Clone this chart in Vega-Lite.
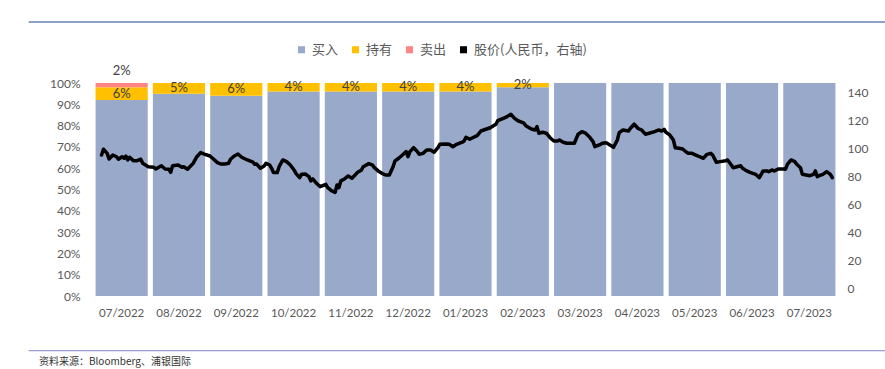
{
  "$schema": "https://vega.github.io/schema/vega-lite/v6.json",
  "width": 745,
  "height": 213,
  "autosize": {"type": "none"},
  "padding": {"left": 93, "top": 83, "right": 47, "bottom": 73},
  "background": "white",
  "config": {
    "view": {"stroke": null},
    "font": "Lato",
    "legend": {"symbolType": "square"}
  },
  "datasets": {
    "bars": [
      {"month": "07/2022", "type": "买入", "pct": 0.92, "order": 1},
      {"month": "07/2022", "type": "持有", "pct": 0.06, "order": 2},
      {"month": "07/2022", "type": "卖出", "pct": 0.02, "order": 3},
      {"month": "08/2022", "type": "买入", "pct": 0.95, "order": 1},
      {"month": "08/2022", "type": "持有", "pct": 0.05, "order": 2},
      {"month": "09/2022", "type": "买入", "pct": 0.94, "order": 1},
      {"month": "09/2022", "type": "持有", "pct": 0.06, "order": 2},
      {"month": "10/2022", "type": "买入", "pct": 0.96, "order": 1},
      {"month": "10/2022", "type": "持有", "pct": 0.04, "order": 2},
      {"month": "11/2022", "type": "买入", "pct": 0.96, "order": 1},
      {"month": "11/2022", "type": "持有", "pct": 0.04, "order": 2},
      {"month": "12/2022", "type": "买入", "pct": 0.96, "order": 1},
      {"month": "12/2022", "type": "持有", "pct": 0.04, "order": 2},
      {"month": "01/2023", "type": "买入", "pct": 0.96, "order": 1},
      {"month": "01/2023", "type": "持有", "pct": 0.04, "order": 2},
      {"month": "02/2023", "type": "买入", "pct": 0.98, "order": 1},
      {"month": "02/2023", "type": "持有", "pct": 0.02, "order": 2},
      {"month": "03/2023", "type": "买入", "pct": 1.0, "order": 1},
      {"month": "04/2023", "type": "买入", "pct": 1.0, "order": 1},
      {"month": "05/2023", "type": "买入", "pct": 1.0, "order": 1},
      {"month": "06/2023", "type": "买入", "pct": 1.0, "order": 1},
      {"month": "07/2023", "type": "买入", "pct": 1.0, "order": 1}
    ],
    "price": [
      {"date": "2022-07-04", "price": 95.2}, {"date": "2022-07-05", "price": 99.3}, {"date": "2022-07-07", "price": 96.4},
      {"date": "2022-07-08", "price": 92.4}, {"date": "2022-07-10", "price": 95.2}, {"date": "2022-07-12", "price": 94.0},
      {"date": "2022-07-13", "price": 92.2}, {"date": "2022-07-15", "price": 94.0}, {"date": "2022-07-16", "price": 92.9},
      {"date": "2022-07-17", "price": 94.5}, {"date": "2022-07-18", "price": 91.7}, {"date": "2022-07-19", "price": 93.6},
      {"date": "2022-07-21", "price": 91.2}, {"date": "2022-07-23", "price": 91.2}, {"date": "2022-07-25", "price": 92.2},
      {"date": "2022-07-26", "price": 89.3}, {"date": "2022-07-29", "price": 86.9}, {"date": "2022-08-01", "price": 86.5},
      {"date": "2022-08-02", "price": 85.3}, {"date": "2022-08-05", "price": 87.6}, {"date": "2022-08-07", "price": 85.3},
      {"date": "2022-08-09", "price": 85.1}, {"date": "2022-08-10", "price": 82.9}, {"date": "2022-08-11", "price": 87.6},
      {"date": "2022-08-14", "price": 88.1}, {"date": "2022-08-16", "price": 86.5}, {"date": "2022-08-17", "price": 86.9},
      {"date": "2022-08-19", "price": 85.1}, {"date": "2022-08-20", "price": 86.5}, {"date": "2022-08-22", "price": 89.3},
      {"date": "2022-08-24", "price": 94.0}, {"date": "2022-08-26", "price": 96.9}, {"date": "2022-08-28", "price": 95.9},
      {"date": "2022-08-31", "price": 94.5}, {"date": "2022-09-02", "price": 92.2}, {"date": "2022-09-04", "price": 89.8},
      {"date": "2022-09-06", "price": 88.8}, {"date": "2022-09-08", "price": 88.8}, {"date": "2022-09-10", "price": 89.3},
      {"date": "2022-09-11", "price": 92.2}, {"date": "2022-09-13", "price": 94.5}, {"date": "2022-09-15", "price": 95.9},
      {"date": "2022-09-17", "price": 93.6}, {"date": "2022-09-20", "price": 91.7}, {"date": "2022-09-21", "price": 91.2},
      {"date": "2022-09-23", "price": 90.1}, {"date": "2022-09-24", "price": 88.6}, {"date": "2022-09-25", "price": 88.8},
      {"date": "2022-09-27", "price": 85.8}, {"date": "2022-09-29", "price": 87.4}, {"date": "2022-09-30", "price": 89.3},
      {"date": "2022-10-02", "price": 88.1}, {"date": "2022-10-03", "price": 85.8}, {"date": "2022-10-04", "price": 82.7},
      {"date": "2022-10-06", "price": 82.7}, {"date": "2022-10-07", "price": 86.9}, {"date": "2022-10-09", "price": 91.7},
      {"date": "2022-10-11", "price": 90.5}, {"date": "2022-10-13", "price": 88.1}, {"date": "2022-10-15", "price": 84.6},
      {"date": "2022-10-16", "price": 82.2}, {"date": "2022-10-18", "price": 79.1}, {"date": "2022-10-19", "price": 81.5},
      {"date": "2022-10-21", "price": 81.7}, {"date": "2022-10-23", "price": 79.8}, {"date": "2022-10-24", "price": 76.8},
      {"date": "2022-10-25", "price": 78.2}, {"date": "2022-10-27", "price": 75.1}, {"date": "2022-10-29", "price": 72.7},
      {"date": "2022-11-01", "price": 74.4}, {"date": "2022-11-02", "price": 72.0}, {"date": "2022-11-04", "price": 69.9},
      {"date": "2022-11-06", "price": 68.7}, {"date": "2022-11-07", "price": 73.9}, {"date": "2022-11-08", "price": 72.0},
      {"date": "2022-11-09", "price": 76.8}, {"date": "2022-11-11", "price": 78.2}, {"date": "2022-11-13", "price": 80.3},
      {"date": "2022-11-15", "price": 78.7}, {"date": "2022-11-18", "price": 82.9}, {"date": "2022-11-20", "price": 84.4},
      {"date": "2022-11-21", "price": 86.9}, {"date": "2022-11-24", "price": 89.1}, {"date": "2022-11-26", "price": 88.1},
      {"date": "2022-11-27", "price": 86.2}, {"date": "2022-11-29", "price": 83.9}, {"date": "2022-12-01", "price": 82.2},
      {"date": "2022-12-03", "price": 81.0}, {"date": "2022-12-05", "price": 81.0}, {"date": "2022-12-07", "price": 86.9},
      {"date": "2022-12-08", "price": 91.0}, {"date": "2022-12-10", "price": 92.9}, {"date": "2022-12-12", "price": 95.2},
      {"date": "2022-12-14", "price": 97.6}, {"date": "2022-12-15", "price": 94.0}, {"date": "2022-12-16", "price": 97.6},
      {"date": "2022-12-18", "price": 100.4}, {"date": "2022-12-20", "price": 97.6}, {"date": "2022-12-21", "price": 95.7},
      {"date": "2022-12-23", "price": 96.4}, {"date": "2022-12-25", "price": 98.8}, {"date": "2022-12-27", "price": 98.8},
      {"date": "2022-12-29", "price": 97.2}, {"date": "2022-12-31", "price": 100.4}, {"date": "2023-01-01", "price": 102.8},
      {"date": "2023-01-04", "price": 103.1}, {"date": "2023-01-06", "price": 102.8}, {"date": "2023-01-08", "price": 101.1},
      {"date": "2023-01-10", "price": 102.8}, {"date": "2023-01-13", "price": 104.3}, {"date": "2023-01-14", "price": 105.2},
      {"date": "2023-01-15", "price": 107.8}, {"date": "2023-01-17", "price": 106.4}, {"date": "2023-01-18", "price": 107.1},
      {"date": "2023-01-21", "price": 109.0}, {"date": "2023-01-23", "price": 112.3}, {"date": "2023-01-26", "price": 113.7},
      {"date": "2023-01-28", "price": 114.6}, {"date": "2023-01-31", "price": 117.1}, {"date": "2023-02-01", "price": 119.6},
      {"date": "2023-02-04", "price": 121.3}, {"date": "2023-02-06", "price": 122.5}, {"date": "2023-02-08", "price": 124.2},
      {"date": "2023-02-10", "price": 121.3}, {"date": "2023-02-12", "price": 119.4}, {"date": "2023-02-15", "price": 117.8},
      {"date": "2023-02-16", "price": 116.1}, {"date": "2023-02-19", "price": 113.7}, {"date": "2023-02-21", "price": 113.0},
      {"date": "2023-02-22", "price": 115.4}, {"date": "2023-02-23", "price": 110.7}, {"date": "2023-02-25", "price": 111.4},
      {"date": "2023-02-27", "price": 110.7}, {"date": "2023-03-01", "price": 107.5}, {"date": "2023-03-03", "price": 105.2},
      {"date": "2023-03-05", "price": 105.2}, {"date": "2023-03-06", "price": 105.9}, {"date": "2023-03-08", "price": 104.3},
      {"date": "2023-03-10", "price": 103.6}, {"date": "2023-03-12", "price": 103.6}, {"date": "2023-03-14", "price": 103.6},
      {"date": "2023-03-16", "price": 110.0}, {"date": "2023-03-18", "price": 111.8}, {"date": "2023-03-20", "price": 110.7},
      {"date": "2023-03-22", "price": 108.2}, {"date": "2023-03-24", "price": 104.7}, {"date": "2023-03-25", "price": 101.1},
      {"date": "2023-03-28", "price": 102.8}, {"date": "2023-03-29", "price": 103.6}, {"date": "2023-03-31", "price": 104.0},
      {"date": "2023-04-02", "price": 102.3}, {"date": "2023-04-04", "price": 100.7}, {"date": "2023-04-06", "price": 105.9},
      {"date": "2023-04-07", "price": 111.1}, {"date": "2023-04-09", "price": 113.0}, {"date": "2023-04-12", "price": 112.3},
      {"date": "2023-04-13", "price": 114.2}, {"date": "2023-04-15", "price": 117.1}, {"date": "2023-04-17", "price": 114.2},
      {"date": "2023-04-19", "price": 113.0}, {"date": "2023-04-21", "price": 110.0}, {"date": "2023-04-23", "price": 110.7},
      {"date": "2023-04-26", "price": 111.8}, {"date": "2023-04-28", "price": 113.0}, {"date": "2023-04-30", "price": 112.3},
      {"date": "2023-05-01", "price": 113.5}, {"date": "2023-05-02", "price": 111.4}, {"date": "2023-05-04", "price": 109.5},
      {"date": "2023-05-06", "price": 105.9}, {"date": "2023-05-07", "price": 100.4}, {"date": "2023-05-09", "price": 100.0},
      {"date": "2023-05-11", "price": 99.5}, {"date": "2023-05-13", "price": 97.2}, {"date": "2023-05-14", "price": 96.4},
      {"date": "2023-05-16", "price": 96.4}, {"date": "2023-05-18", "price": 95.2}, {"date": "2023-05-20", "price": 94.0},
      {"date": "2023-05-22", "price": 92.9}, {"date": "2023-05-24", "price": 95.7}, {"date": "2023-05-26", "price": 96.4},
      {"date": "2023-05-27", "price": 95.2}, {"date": "2023-05-29", "price": 90.0}, {"date": "2023-05-31", "price": 90.5},
      {"date": "2023-06-03", "price": 91.2}, {"date": "2023-06-04", "price": 91.7}, {"date": "2023-06-06", "price": 88.1},
      {"date": "2023-06-07", "price": 86.2}, {"date": "2023-06-09", "price": 86.9}, {"date": "2023-06-11", "price": 87.6},
      {"date": "2023-06-12", "price": 85.8}, {"date": "2023-06-14", "price": 84.1}, {"date": "2023-06-16", "price": 82.9},
      {"date": "2023-06-19", "price": 81.5}, {"date": "2023-06-21", "price": 79.1}, {"date": "2023-06-23", "price": 83.9},
      {"date": "2023-06-25", "price": 83.9}, {"date": "2023-06-26", "price": 83.4}, {"date": "2023-06-28", "price": 84.6},
      {"date": "2023-06-29", "price": 83.9}, {"date": "2023-07-01", "price": 85.3}, {"date": "2023-07-04", "price": 85.3},
      {"date": "2023-07-05", "price": 85.1}, {"date": "2023-07-06", "price": 88.6}, {"date": "2023-07-08", "price": 91.7},
      {"date": "2023-07-10", "price": 90.5}, {"date": "2023-07-11", "price": 88.6}, {"date": "2023-07-13", "price": 86.2},
      {"date": "2023-07-14", "price": 81.5}, {"date": "2023-07-16", "price": 81.0}, {"date": "2023-07-18", "price": 80.5},
      {"date": "2023-07-20", "price": 81.5}, {"date": "2023-07-21", "price": 83.9}, {"date": "2023-07-22", "price": 79.8},
      {"date": "2023-07-23", "price": 80.5}, {"date": "2023-07-25", "price": 81.5}, {"date": "2023-07-27", "price": 83.4},
      {"date": "2023-07-29", "price": 81.5}, {"date": "2023-07-30", "price": 79.1}
    ]
  },
  "layer": [
    {
      "data": {"name": "bars"},
      "encoding": {
        "x": {
          "field": "month", "type": "nominal", "sort": null,
          "scale": {"paddingInner": 0.09, "paddingOuter": 0.045},
          "axis": {"title": null, "domain": false, "ticks": false, "labelAngle": 0, "labelPadding": 11, "labelFontSize": 11.5, "labelColor": "#595959", "labelFont": "Lato", "labelOverlap": false}
        }
      },
      "layer": [
        {
          "mark": {"type": "bar"},
          "encoding": {
            "y": {
              "field": "pct", "type": "quantitative", "stack": "zero",
              "scale": {"domain": [0, 1], "nice": false},
              "axis": {"title": null, "values": [0, 0.1, 0.2, 0.3, 0.4, 0.5, 0.6, 0.7, 0.8, 0.9, 1], "format": ".0%", "labelOverlap": false, "domain": false, "ticks": false, "grid": false, "labelPadding": 13, "labelFontSize": 12, "labelColor": "#595959", "labelFont": "Lato"}
            },
            "color": {
              "field": "type", "type": "nominal",
              "scale": {"domain": ["买入", "持有", "卖出", "股价(人民币，右轴)"], "range": ["#98A9C9", "#FFC000", "#FF8585", "#000000"]},
              "legend": {"title": null, "orient": "none", "legendX": 202, "legendY": -40, "direction": "horizontal", "symbolType": "square", "symbolSize": 50, "symbolStrokeWidth": 0, "labelFont": "Noto Sans CJK SC", "labelFontSize": 13, "labelColor": "#595959", "labelOffset": 4, "columnPadding": 10, "padding": 0}
            },
            "order": {"field": "order", "type": "quantitative", "sort": "ascending"}
          }
        },
        {
          "transform": [
            {"stack": "pct", "groupby": ["month"], "sort": [{"field": "order", "order": "ascending"}], "as": ["s0", "s1"]},
            {"calculate": "(datum.s0 + datum.s1) / 2", "as": "mid"},
            {"filter": "datum.type == '持有'"}
          ],
          "mark": {"type": "text", "baseline": "middle", "fontSize": 13, "font": "Lato", "color": "#404040"},
          "encoding": {
            "y": {"field": "mid", "type": "quantitative", "scale": {"domain": [0, 1], "nice": false},
              "axis": {"title": null, "values": [0, 0.1, 0.2, 0.3, 0.4, 0.5, 0.6, 0.7, 0.8, 0.9, 1], "format": ".0%", "labelOverlap": false, "domain": false, "ticks": false, "grid": false, "labelPadding": 13, "labelFontSize": 12, "labelColor": "#595959", "labelFont": "Lato"}},
            "text": {"field": "pct", "type": "quantitative", "format": ".0%"}
          }
        },
        {
          "transform": [
            {"stack": "pct", "groupby": ["month"], "sort": [{"field": "order", "order": "ascending"}], "as": ["s0", "s1"]},
            {"filter": "datum.type == '卖出'"}
          ],
          "mark": {"type": "text", "baseline": "middle", "dy": -12, "fontSize": 13, "font": "Lato", "color": "#404040"},
          "encoding": {
            "y": {"field": "s1", "type": "quantitative", "scale": {"domain": [0, 1], "nice": false},
              "axis": {"title": null, "values": [0, 0.1, 0.2, 0.3, 0.4, 0.5, 0.6, 0.7, 0.8, 0.9, 1], "format": ".0%", "labelOverlap": false, "domain": false, "ticks": false, "grid": false, "labelPadding": 13, "labelFontSize": 12, "labelColor": "#595959", "labelFont": "Lato"}},
            "text": {"field": "pct", "type": "quantitative", "format": ".0%"}
          }
        }
      ]
    },
    {
      "layer": [
        {
          "data": {"name": "price"},
          "mark": {"type": "line", "strokeWidth": 3.5, "strokeJoin": "round", "strokeCap": "round"},
          "encoding": {
            "x": {"field": "date", "type": "temporal", "scale": {"type": "utc", "domain": [{"year": 2022, "month": 6, "date": 29, "hours": 10, "utc": true}, {"year": 2023, "month": 8, "date": 2, "hours": 2, "utc": true}]}, "axis": null},
            "y": {
              "field": "price", "type": "quantitative",
              "scale": {"domain": [-5, 146.4], "nice": false, "zero": false},
              "axis": {"orient": "right", "title": null, "values": [0, 20, 40, 60, 80, 100, 120, 140], "labelOverlap": false, "domain": false, "ticks": false, "grid": false, "labelPadding": 9, "labelFontSize": 12, "labelColor": "#595959", "labelFont": "Lato"}
            },
            "color": {"datum": "股价(人民币，右轴)", "type": "nominal"}
          }
        },
        {
          "data": {"values": [{"line": "top"}]},
          "mark": {"type": "rule", "color": "#8EA0C4", "strokeWidth": 2},
          "encoding": {
            "x": {"datum": {"year": 2022, "month": 5, "date": 26, "utc": true}, "type": "temporal", "scale": {"type": "utc", "domain": [{"year": 2022, "month": 6, "date": 29, "hours": 10, "utc": true}, {"year": 2023, "month": 8, "date": 2, "hours": 2, "utc": true}]}, "axis": null},
            "x2": {"datum": {"year": 2023, "month": 8, "date": 27, "hours": 5, "utc": true}},
            "y": {"datum": 189.8, "type": "quantitative", "scale": {"domain": [-5, 146.4], "nice": false, "zero": false},
              "axis": {"orient": "right", "title": null, "values": [0, 20, 40, 60, 80, 100, 120, 140], "labelOverlap": false, "domain": false, "ticks": false, "grid": false, "labelPadding": 9, "labelFontSize": 12, "labelColor": "#595959", "labelFont": "Lato"}}
          }
        },
        {
          "data": {"values": [{"line": "bottom"}]},
          "mark": {"type": "rule", "color": "#8585C2", "strokeWidth": 1},
          "encoding": {
            "x": {"datum": {"year": 2022, "month": 5, "date": 26, "utc": true}, "type": "temporal", "scale": {"type": "utc", "domain": [{"year": 2022, "month": 6, "date": 29, "hours": 10, "utc": true}, {"year": 2023, "month": 8, "date": 2, "hours": 2, "utc": true}]}, "axis": null},
            "x2": {"datum": {"year": 2023, "month": 8, "date": 27, "hours": 5, "utc": true}},
            "y": {"datum": -43.9, "type": "quantitative", "scale": {"domain": [-5, 146.4], "nice": false, "zero": false},
              "axis": {"orient": "right", "title": null, "values": [0, 20, 40, 60, 80, 100, 120, 140], "labelOverlap": false, "domain": false, "ticks": false, "grid": false, "labelPadding": 9, "labelFontSize": 12, "labelColor": "#595959", "labelFont": "Lato"}}
          }
        },
        {
          "data": {"values": [{"source": "资料来源：Bloomberg、浦银国际"}]},
          "mark": {"type": "text", "align": "left", "baseline": "middle", "fontSize": 10, "font": "Noto Sans CJK SC", "color": "#333333"},
          "encoding": {
            "x": {"datum": {"year": 2022, "month": 5, "date": 31, "hours": 12, "utc": true}, "type": "temporal", "scale": {"type": "utc", "domain": [{"year": 2022, "month": 6, "date": 29, "hours": 10, "utc": true}, {"year": 2023, "month": 8, "date": 2, "hours": 2, "utc": true}]}, "axis": null},
            "y": {"datum": -51.9, "type": "quantitative", "scale": {"domain": [-5, 146.4], "nice": false, "zero": false},
              "axis": {"orient": "right", "title": null, "values": [0, 20, 40, 60, 80, 100, 120, 140], "labelOverlap": false, "domain": false, "ticks": false, "grid": false, "labelPadding": 9, "labelFontSize": 12, "labelColor": "#595959", "labelFont": "Lato"}},
            "text": {"field": "source", "type": "nominal"}
          }
        }
      ]
    }
  ],
  "resolve": {"scale": {"x": "independent", "y": "independent"}, "axis": {"x": "independent", "y": "independent"}}
}
